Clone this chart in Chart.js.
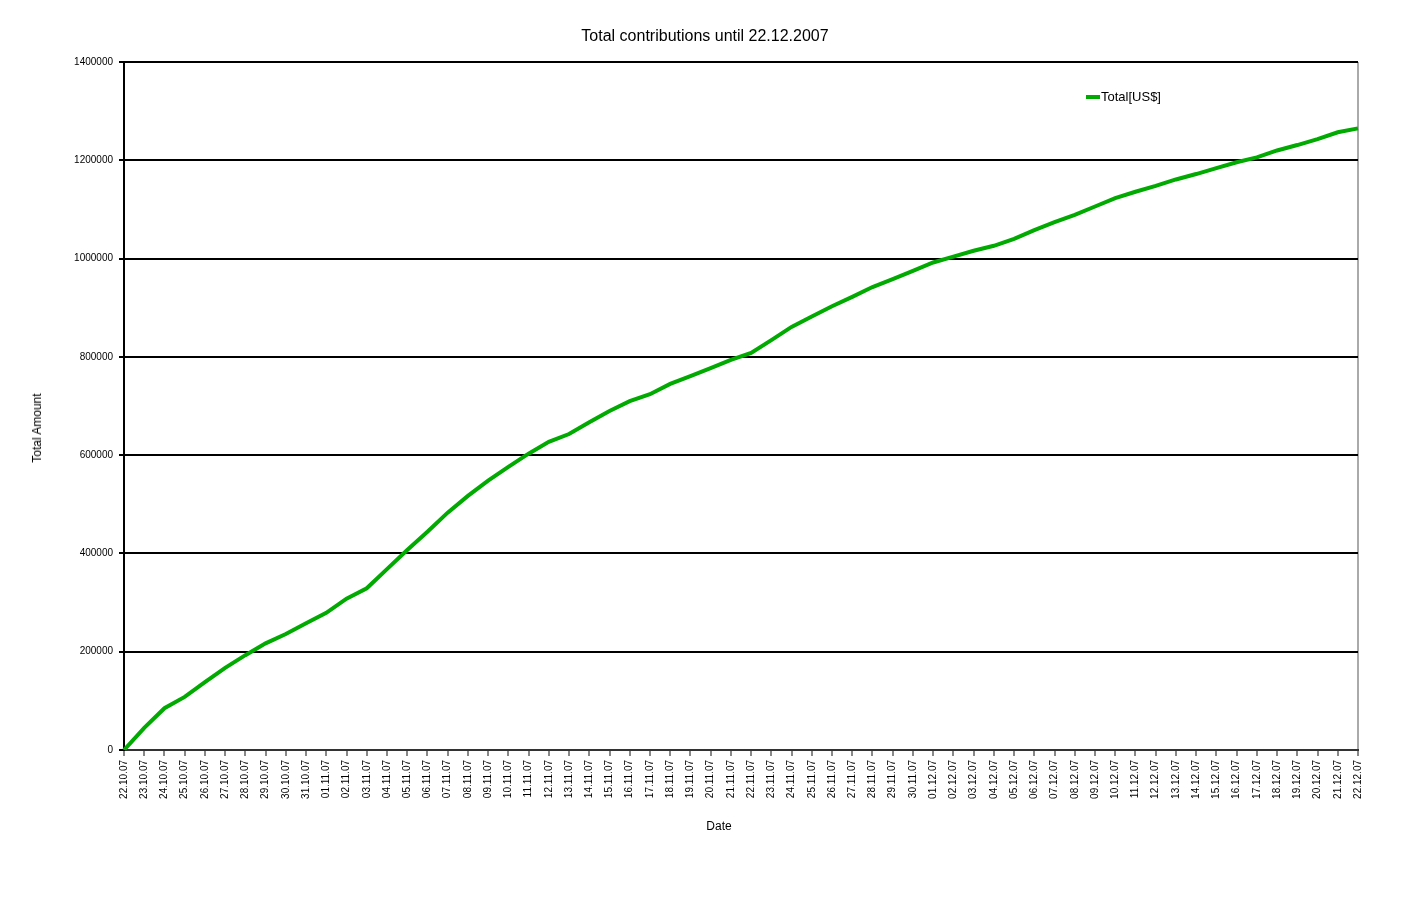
<!DOCTYPE html>
<html>
<head>
<meta charset="utf-8">
<title>Total contributions until 22.12.2007</title>
<script src="https://cdn.jsdelivr.net/npm/chart.js@4"></script>
<style>
  body { margin: 0; background: #fff; font-family: "Liberation Sans", Arial, sans-serif; }
  #wrap { position: relative; width: 1426px; height: 901px; }
  .axis-title { position: absolute; font-size: 12px; color: #000; white-space: nowrap; }
  #yTitle { left: 37px; top: 428px; transform: translate(-50%, -50%) rotate(-90deg); }
  #xTitle { left: 719px; top: 826px; transform: translate(-50%, -50%); }
  #legend { position: absolute; left: 1086px; top: 89px; font-size: 13px; color: #000; display: flex; align-items: center; }
  #legend .swatch { width: 14px; height: 4px; background: #00aa00; margin-right: 1px; }
</style>
</head>
<body>
<div id="wrap">
  <canvas id="chart" width="1426" height="901"></canvas>
  <div class="axis-title" id="yTitle">Total Amount</div>
  <div class="axis-title" id="xTitle">Date</div>
  <div id="legend"><span class="swatch"></span><span>Total[US$]</span></div>
</div>
<script>
// Dates (jour par jour, du 22.10.07 au 22.12.07)
const dates = [
  "22.10.07", "23.10.07", "24.10.07", "25.10.07", "26.10.07", "27.10.07", "28.10.07", "29.10.07", "30.10.07", "31.10.07",
  "01.11.07", "02.11.07", "03.11.07", "04.11.07", "05.11.07", "06.11.07", "07.11.07", "08.11.07", "09.11.07", "10.11.07",
  "11.11.07", "12.11.07", "13.11.07", "14.11.07", "15.11.07", "16.11.07", "17.11.07", "18.11.07", "19.11.07", "20.11.07",
  "21.11.07", "22.11.07", "23.11.07", "24.11.07", "25.11.07", "26.11.07", "27.11.07", "28.11.07", "29.11.07", "30.11.07",
  "01.12.07", "02.12.07", "03.12.07", "04.12.07", "05.12.07", "06.12.07", "07.12.07", "08.12.07", "09.12.07", "10.12.07",
  "11.12.07", "12.12.07", "13.12.07", "14.12.07", "15.12.07", "16.12.07", "17.12.07", "18.12.07", "19.12.07", "20.12.07",
  "21.12.07", "22.12.07"
];

// Total cumulé en US$
const totals = [
  0, 45000, 85000, 108000, 138000, 167000, 193000, 217000, 236000, 258000,
  279000, 308000, 329000, 368000, 407000, 444000, 483000, 517000, 548000, 576000,
  603000, 627000, 643000, 667000, 690000, 710000, 724000, 745000, 761000, 777000,
  794000, 808000, 834000, 861000, 882000, 903000, 922000, 942000, 958000, 975000,
  992000, 1004000, 1016000, 1026000, 1040000, 1058000, 1074000, 1089000, 1106000, 1123000,
  1136000, 1148000, 1161000, 1172000, 1184000, 1196000, 1206000, 1220000, 1231000, 1243000,
  1257000, 1265000
];

const yMin = 0;
const yMax = 1400000;
const yStep = 200000;

const FONT = "'Liberation Sans', Arial, sans-serif";

const ctx = document.getElementById("chart").getContext("2d");
new Chart(ctx, {
  type: "line",
  data: {
    labels: dates,
    datasets: [{
      label: "Total[US$]",
      data: totals,
      borderColor: "#00aa00",
      borderWidth: 4,
      pointRadius: 0,
      tension: 0,
      fill: false
    }]
  },
  options: {
    responsive: false,
    animation: false,
    layout: { padding: { left: 0, right: 16, top: 0, bottom: 0 } },
    plugins: {
      legend: { display: false },
      tooltip: { enabled: false },
      title: {
        display: true,
        text: "Total contributions until 22.12.2007",
        color: "#000",
        font: { family: FONT, size: 16, weight: "normal" },
        padding: { top: 26.5, bottom: 16.3 }
      }
    },
    scales: {
      x: {
        grid: {
          // seule la dernière ligne (bord droit) est visible
          color: (c) => c.index === dates.length - 1 ? "#aaaaaa" : "rgba(0,0,0,0)",
          tickColor: "#888888",
          tickLength: 6,
          lineWidth: 2
        },
        border: { color: "#333", width: 2 },
        ticks: {
          autoSkip: false,
          minRotation: 90,
          maxRotation: 90,
          padding: 4,
          color: "#000",
          font: { family: FONT, size: 10 }
        },
        afterFit: (scale) => { scale.height = 151; }
      },
      y: {
        min: yMin,
        max: yMax,
        grid: { color: "#000", lineWidth: 2, tickLength: 5, tickColor: "#000" },
        border: { color: "#000", width: 2 },
        ticks: {
          stepSize: yStep,
          padding: 6,
          color: "#000",
          font: { family: FONT, size: 10 },
          callback: (v) => String(v)
        },
        afterFit: (scale) => { scale.width = 124; }
      },
      // axe fantôme pour réserver la marge droite sans décaler le titre
      yRight: {
        position: "right",
        min: yMin,
        max: yMax,
        grid: { display: false },
        border: { display: false },
        ticks: { display: false },
        afterFit: (scale) => { scale.width = 52; }
      }
    }
  }
});
</script>
</body>
</html>
